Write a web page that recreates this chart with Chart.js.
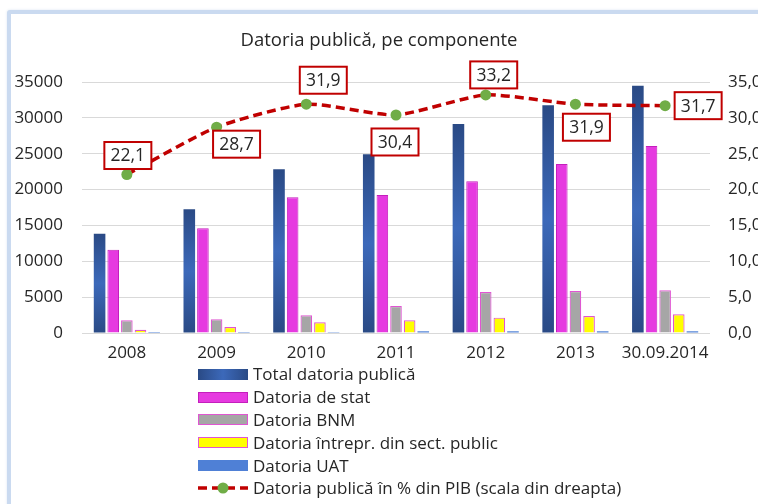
<!DOCTYPE html>
<html>
<head>
<meta charset="utf-8">
<script src="https://cdn.jsdelivr.net/npm/chart.js@4/dist/chart.umd.min.js"></script>
<style>
  html, body { margin: 0; padding: 0; background: #ffffff; }
  body { width: 758px; height: 504px; position: relative; overflow: hidden; font-family: "Open Sans", sans-serif; }
  #frame { position: absolute; left: 7px; top: 10px; width: 800px; height: 560px; border: 4px solid #cadaf0; border-radius: 3px; box-shadow: 0 0 3px #dde6f2; background: #ffffff; }
  #wrap { position: absolute; left: 0; top: 0; width: 758px; height: 504px; }
  #legend { position: absolute; left: 198px; top: 363px; font-size: 17px; line-height: 20px; color: #262626; }
  .item { height: 22.8px; display: flex; align-items: center; white-space: nowrap; }
  .sw { width: 50px; height: 11px; box-sizing: border-box; margin-right: 5px; flex: none; }
  .sw svg { display: block; }
</style>
</head>
<body>
<div id="frame"></div>
<div id="wrap"><canvas id="c" width="758" height="504"></canvas></div>
<div id="legend"></div>
<script>
// ---- data ----
const categories = ['2008', '2009', '2010', '2011', '2012', '2013', '30.09.2014'];
const totalDatoria = [13850, 17250, 22830, 24920, 29140, 31750, 34490];
const datoriaStat = [11620, 14600, 18920, 19240, 21150, 23570, 26080];
const datoriaBNM = [1770, 1910, 2470, 3770, 5720, 5860, 5950];
const datoriaIntrepr = [460, 840, 1490, 1770, 2140, 2370, 2600];
const datoriaUAT = [140, 130, 120, 240, 240, 240, 240];
const datoriaPIB = [22.1, 28.7, 31.9, 30.4, 33.2, 31.9, 31.7];
const leftTicks = [0, 5000, 10000, 15000, 20000, 25000, 30000, 35000];
const rightTicks = [0, 5, 10, 15, 20, 25, 30, 35];
const seriesNames = ['Total datoria publică', 'Datoria de stat', 'Datoria BNM', 'Datoria întrepr. din sect. public', 'Datoria UAT', 'Datoria publică în % din PIB (scala din dreapta)'];
const titleText = 'Datoria publică, pe componente';

// label offsets (layout only)
const labelOffsets = [[1, -19], [20, 17], [17, -24], [-1, 27], [8, -20], [11, 23], [33, 0]];

const FONT = '"Open Sans", sans-serif';
const TEXT = '#262626';

function totalGradient(ctx) {
  const chart = ctx.chart;
  if (!chart.chartArea || ctx.raw === undefined) return '#3461ab';
  const y = chart.scales.y;
  const top = y.getPixelForValue(ctx.raw);
  const bot = y.getPixelForValue(0);
  if (!isFinite(top) || !isFinite(bot) || bot - top < 1) return '#3461ab';
  const g = chart.ctx.createLinearGradient(0, top, 0, bot);
  g.addColorStop(0, '#2a4a85');
  g.addColorStop(0.5, '#3c69ba');
  g.addColorStop(1, '#2a4a85');
  return g;
}

const labelPlugin = {
  id: 'pibLabels',
  afterDatasetsDraw(chart) {
    const meta = chart.getDatasetMeta(5);
    const c = chart.ctx;
    c.save();
    c.font = '17.5px ' + FONT;
    c.textAlign = 'center';
    c.textBaseline = 'middle';
    meta.data.forEach((pt, i) => {
      const [dx, dy] = labelOffsets[i];
      const cx = pt.x + dx, cy = pt.y + dy;
      const w = 47, h = 27;
      c.fillStyle = '#ffffff';
      c.fillRect(cx - w / 2, cy - h / 2, w, h);
      c.strokeStyle = '#c00000';
      c.lineWidth = 2;
      c.strokeRect(cx - w / 2, cy - h / 2, w, h);
      c.fillStyle = TEXT;
      c.fillText(datoriaPIB[i].toFixed(1).replace('.', ','), cx, cy + 1);
    });
    c.restore();
  }
};

const barCommon = { categoryPercentage: 0.76, barPercentage: 0.85, yAxisID: 'y', order: 1 };

new Chart(document.getElementById('c'), {
  type: 'bar',
  data: {
    labels: categories,
    datasets: [
      Object.assign({ label: seriesNames[0], data: totalDatoria, backgroundColor: totalGradient, borderWidth: 0 }, barCommon),
      Object.assign({ label: seriesNames[1], data: datoriaStat, backgroundColor: '#e63ae0', borderColor: '#c41fbc', borderWidth: 1 }, barCommon),
      Object.assign({ label: seriesNames[2], data: datoriaBNM, backgroundColor: '#a6a6a6', borderColor: '#e055d2', borderWidth: 1.2 }, barCommon),
      Object.assign({ label: seriesNames[3], data: datoriaIntrepr, backgroundColor: '#ffff00', borderColor: '#e055d2', borderWidth: 1.2 }, barCommon),
      Object.assign({ label: seriesNames[4], data: datoriaUAT, backgroundColor: '#4f80d6', borderWidth: 0 }, barCommon),
      {
        type: 'line', label: seriesNames[5], data: datoriaPIB, yAxisID: 'y1', order: 0,
        borderColor: '#c00000', borderWidth: 3.5, borderDash: [9, 5], tension: 0.2,
        pointRadius: 5.5, pointBackgroundColor: '#70ad47', pointBorderWidth: 0, pointHoverRadius: 5.5,
        fill: false
      }
    ]
  },
  options: {
    responsive: false,
    animation: false,
    events: [],
    layout: { padding: { left: 0, right: 0, top: 0, bottom: 140 } },
    plugins: {
      legend: { display: false },
      tooltip: { enabled: false },
      title: {
        display: true, text: titleText, color: TEXT,
        font: { family: FONT, size: 18.5, weight: 'normal', lineHeight: 1.2 },
        padding: { top: 30, bottom: 29.8 }
      }
    },
    scales: {
      x: {
        grid: { display: false, drawTicks: false },
        border: { display: false },
        ticks: { color: TEXT, font: { family: FONT, size: 17 }, padding: 10, maxRotation: 0, autoSkip: false },
        afterFit(s) { s.height = 31; }
      },
      y: {
        position: 'left', min: 0, max: 35000,
        afterBuildTicks(s) { s.ticks = leftTicks.map(v => ({ value: v })); },
        grid: { color: '#d9d9d9', lineWidth: 1, drawTicks: false },
        border: { display: false },
        ticks: { color: TEXT, font: { family: FONT, size: 17 }, padding: 19, callback: v => String(v) },
        afterFit(s) { s.width = 82; }
      },
      y1: {
        position: 'right', min: 0, max: 35,
        afterBuildTicks(s) { s.ticks = rightTicks.map(v => ({ value: v })); },
        grid: { display: false, drawTicks: false },
        border: { display: false },
        ticks: { color: TEXT, font: { family: FONT, size: 17 }, padding: 18, callback: v => Number(v).toFixed(1).replace('.', ',') },
        afterFit(s) { s.width = 48; }
      }
    }
  },
  plugins: [labelPlugin]
});

// HTML legend (one item per row)
const swatches = [
  '<div class="sw" style="background:linear-gradient(to right,#2a4a85,#3c69ba,#2a4a85)"></div>',
  '<div class="sw" style="background:#e63ae0;border:1px solid #c41fbc"></div>',
  '<div class="sw" style="background:#a6a6a6;border:1.5px solid #e055d2"></div>',
  '<div class="sw" style="background:#ffff00;border:1.5px solid #e055d2"></div>',
  '<div class="sw" style="background:#4f80d6"></div>',
  '<div class="sw" style="height:12px"><svg width="50" height="12"><line x1="0" y1="6" x2="50" y2="6" stroke="#c00000" stroke-width="3.5" stroke-dasharray="9,5"/><circle cx="25" cy="6" r="5.5" fill="#70ad47"/></svg></div>'
];
const leg = document.getElementById('legend');
seriesNames.forEach((n, i) => {
  const d = document.createElement('div');
  d.className = 'item';
  d.innerHTML = swatches[i];
  const s = document.createElement('span');
  s.textContent = n;
  d.appendChild(s);
  leg.appendChild(d);
});
</script>
</body>
</html>
